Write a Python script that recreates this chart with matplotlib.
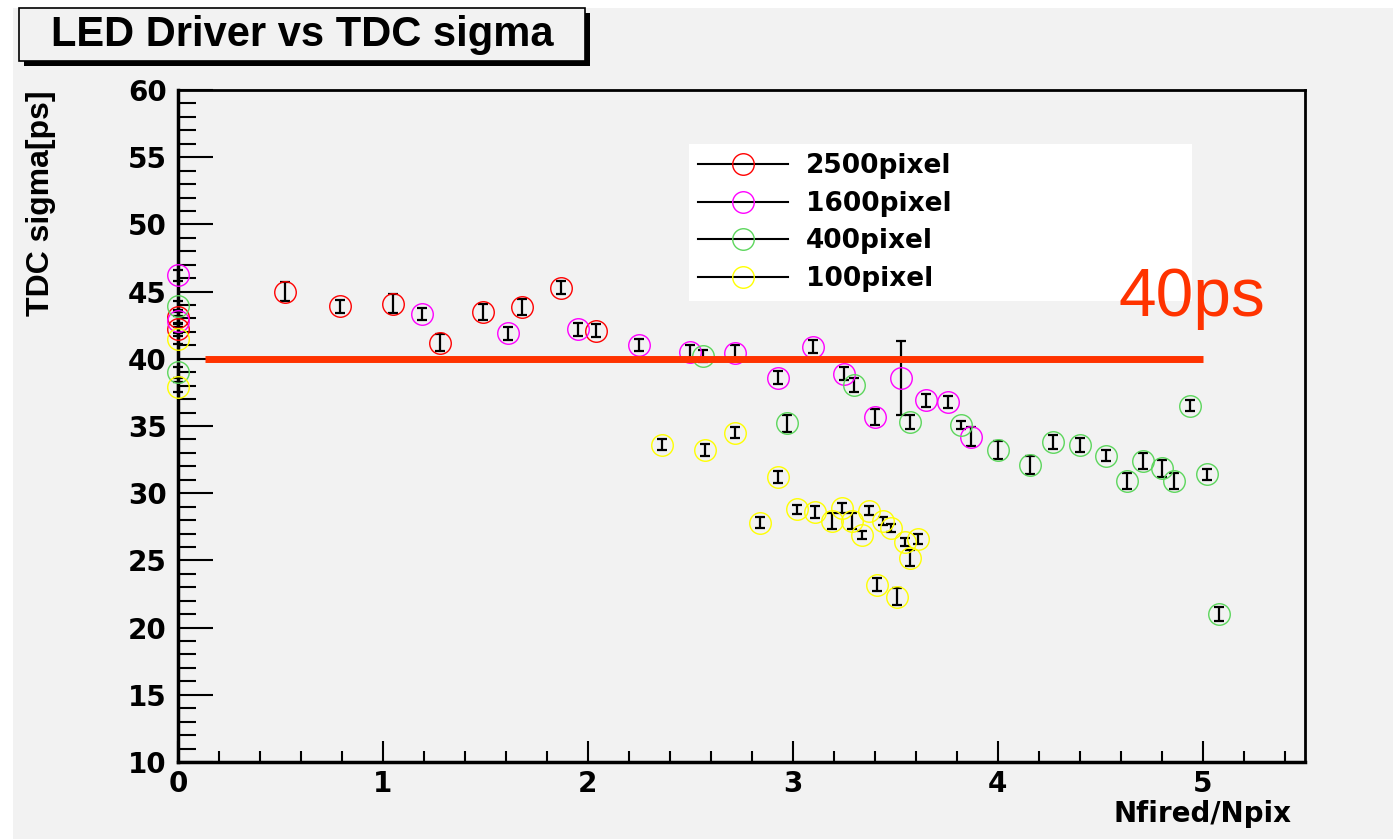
import matplotlib
matplotlib.use('Agg')
import matplotlib.pyplot as plt
from matplotlib.patches import Rectangle
from matplotlib.lines import Line2D
from matplotlib.ticker import MultipleLocator

# ---------------- data ----------------
labels = ['2500pixel', '1600pixel', '400pixel', '100pixel']
colors = ['#ff0000', '#ff00ff', '#5cd65c', '#ffff00']

x_2500 = [0.0, 0.0, 0.52, 0.79, 1.05, 1.28, 1.49, 1.68, 1.87, 2.04]
y_2500 = [43.1, 42.2, 45.0, 43.9, 44.1, 41.2, 43.5, 43.85, 45.3, 42.1]
e_2500 = [0.5, 0.5, 0.7, 0.5, 0.7, 0.65, 0.6, 0.6, 0.5, 0.5]

x_1600 = [0.0, 0.0, 1.19, 1.61, 1.95, 2.25, 2.50, 2.72, 2.93, 3.10, 3.25,
          3.40, 3.53, 3.65, 3.76, 3.87]
y_1600 = [46.2, 42.8, 43.3, 41.9, 42.2, 41.0, 40.5, 40.4, 38.6, 40.9, 38.9,
          35.7, 38.6, 36.9, 36.8, 34.2]
e_1600 = [0.4, 0.4, 0.45, 0.5, 0.5, 0.45, 0.5, 0.6, 0.5, 0.5, 0.5,
          0.6, 2.75, 0.5, 0.45, 0.7]

x_400 = [0.0, 0.0, 2.56, 2.97, 3.30, 3.57, 3.82, 4.00, 4.16, 4.27, 4.40,
         4.53, 4.63, 4.71, 4.80, 4.86, 4.94, 5.02, 5.08]
y_400 = [43.9, 39.0, 40.2, 35.2, 38.05, 35.3, 35.1, 33.2, 32.1, 33.8, 33.6,
         32.8, 30.9, 32.4, 31.85, 30.9, 36.5, 31.4, 21.0]
e_400 = [0.4, 0.4, 0.45, 0.65, 0.5, 0.5, 0.3, 0.65, 0.65, 0.5, 0.5,
         0.4, 0.6, 0.6, 0.65, 0.6, 0.4, 0.4, 0.5]

x_100 = [0.0, 0.0, 2.36, 2.57, 2.72, 2.84, 2.93, 3.02, 3.11, 3.19, 3.24,
         3.29, 3.34, 3.37, 3.41, 3.44, 3.48, 3.51, 3.55, 3.57, 3.61]
y_100 = [41.5, 37.9, 33.6, 33.2, 34.5, 27.8, 31.2, 28.8, 28.6, 27.95, 28.9,
         27.9, 26.9, 28.7, 23.2, 27.9, 27.4, 22.3, 26.4, 25.2, 26.6]
e_100 = [0.4, 0.4, 0.4, 0.45, 0.4, 0.4, 0.45, 0.35, 0.45, 0.6, 0.35,
         0.6, 0.3, 0.35, 0.5, 0.3, 0.3, 0.65, 0.3, 0.6, 0.35]

threshold_y = 40
threshold_x = [0.13, 5.0]
threshold_label = '40ps'

title = 'LED Driver vs TDC sigma'
xlabel = 'Nfired/Npix'
ylabel = 'TDC sigma[ps]'

# ---------------- layout helpers ----------------
W, H = 1393, 839
def fx(px):
    return px / W
def fy(py):
    return 1 - py / H

fig = plt.figure(figsize=(W / 100, H / 100), dpi=100, facecolor='white')
fig.patches.append(Rectangle((fx(13), 0), 1 - fx(13), fy(8), transform=fig.transFigure,
                             facecolor='#f2f2f2', edgecolor='none', zorder=-10))

ax = fig.add_axes([fx(178), fy(762), fx(1305) - fx(178), fy(90) - fy(762)])
ax.set_facecolor('#f2f2f2')

series = [(x_2500, y_2500, e_2500), (x_1600, y_1600, e_1600),
          (x_400, y_400, e_400), (x_100, y_100, e_100)]
for (xs, ys, es), c in zip(series, colors):
    eb = ax.errorbar(xs, ys, yerr=es, fmt='none', ecolor='black', elinewidth=1.6,
                     capsize=3.6, capthick=1.6, zorder=3)
    for art in eb.lines[1] + eb.lines[2]:
        art.set_clip_on(False)
    ax.plot(xs, ys, 'o', ms=15.5, mfc='none', mec=c, mew=1.0, zorder=4, clip_on=False)

ax.plot(threshold_x, [threshold_y, threshold_y], color='#ff3300', lw=5,
        solid_capstyle='butt', zorder=6)
ax.text(4.59, 43.2, threshold_label, fontsize=48.8, family='Liberation Sans',
        color='#ff3300', ha='left', va='baseline', zorder=8)

ax.set_xlim(0, 5.5)
ax.set_ylim(10, 60)
ax.xaxis.set_major_locator(MultipleLocator(1))
ax.xaxis.set_minor_locator(MultipleLocator(0.2))
ax.yaxis.set_major_locator(MultipleLocator(5))
ax.yaxis.set_minor_locator(MultipleLocator(1))
ax.tick_params(axis='x', which='major', direction='in', length=15, width=1.5,
               top=False, pad=6)
ax.tick_params(axis='x', which='minor', direction='in', length=8, width=1.5, top=False)
ax.tick_params(axis='y', which='major', direction='in', length=25, width=1.5,
               right=False, pad=8)
ax.tick_params(axis='y', which='minor', direction='in', length=13, width=1.5, right=False)
for lab in ax.get_xticklabels() + ax.get_yticklabels():
    lab.set_fontweight('bold')
    lab.set_fontsize(20)
    lab.set_family('DejaVu Sans')
for sp in ax.spines.values():
    sp.set_linewidth(2)
ax.spines['left'].set_linewidth(2.5)
ax.spines['bottom'].set_linewidth(2.5)

handles = [Line2D([], [], color='black', lw=1.5, marker='o', ms=15.5, mfc='none',
                  mec=c, mew=1.0) for c in colors]
leg = ax.legend(handles, labels, loc='upper left',
                bbox_to_anchor=(fx(689), fy(297), fx(1192) - fx(689), fy(144) - fy(297)),
                bbox_transform=fig.transFigure, mode='expand', frameon=True,
                fancybox=False, facecolor='white', edgecolor='none', framealpha=1,
                handlelength=3.4, handletextpad=0.68, labelspacing=0.44,
                borderpad=0.35, borderaxespad=0, numpoints=1,
                prop={'weight': 'bold', 'size': 19, 'family': 'DejaVu Sans'})
leg.set_zorder(7)

# title box with shadow
bx0, bx1, by0, by1 = 19, 585, 8, 61
fig.patches.append(Rectangle((fx(bx0 + 5), fy(by1 + 5)), fx(bx1) - fx(bx0), fy(by0) - fy(by1),
                             transform=fig.transFigure, facecolor='black',
                             edgecolor='none', zorder=1))
fig.patches.append(Rectangle((fx(bx0), fy(by1)), fx(bx1) - fx(bx0), fy(by0) - fy(by1),
                             transform=fig.transFigure, facecolor='#f2f2f2',
                             edgecolor='black', lw=1.2, zorder=2))
fig.text(fx((bx0 + bx1) / 2), fy(46), title, ha='center', va='baseline',
         fontsize=30, fontweight='bold', family='Liberation Sans', zorder=3)

fig.text(fx(41), fy(90), ylabel, rotation=90, ha='center', va='top',
         fontsize=23, fontweight='bold', family='Liberation Sans')
fig.text(fx(1292), fy(822), xlabel, ha='right', va='baseline',
         fontsize=20, fontweight='bold', family='DejaVu Sans')

fig.savefig('out.png', dpi=100, facecolor='white')
